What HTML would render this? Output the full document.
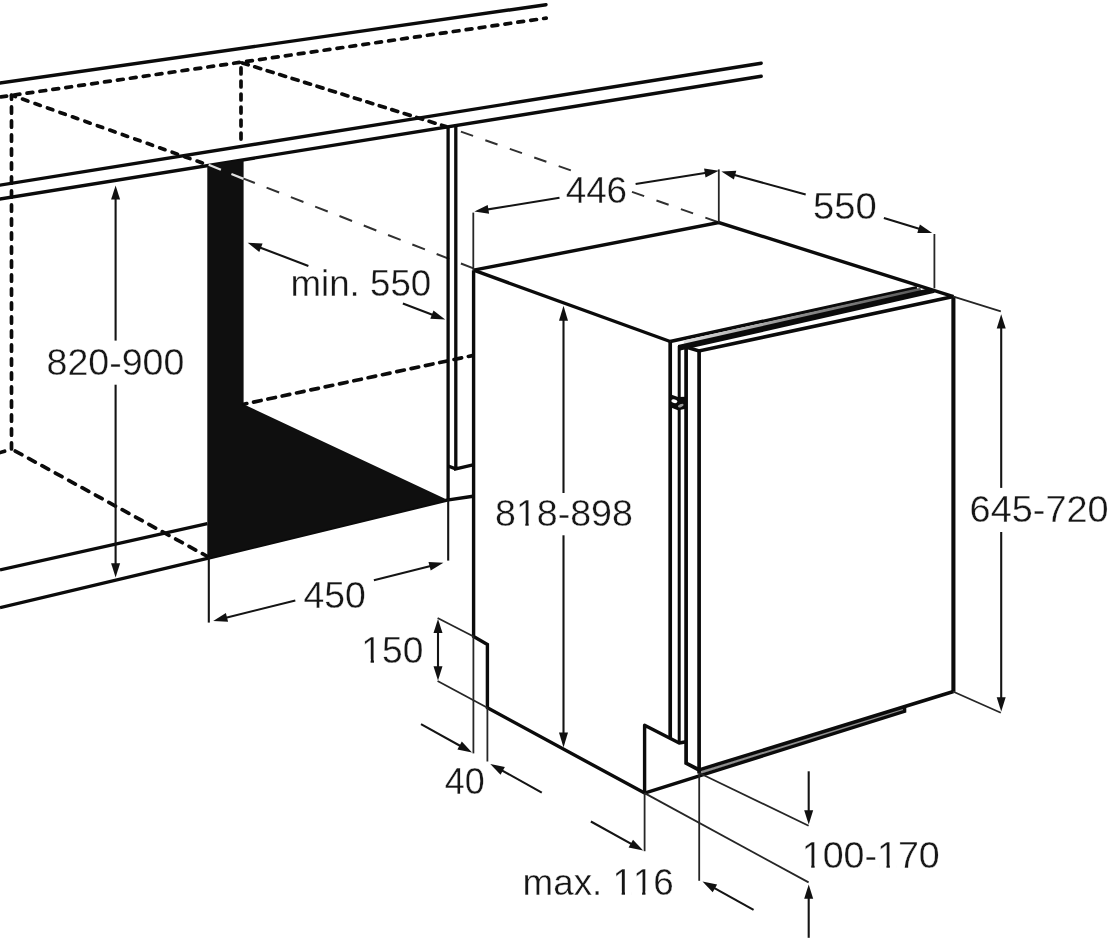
<!DOCTYPE html>
<html><head><meta charset="utf-8"><title>Built-in dishwasher installation dimensions</title>
<style>
html,body{margin:0;padding:0;background:#fff;}
body{width:1111px;height:944px;overflow:hidden;}
svg{display:block;filter:grayscale(1) blur(0.45px);}
text{font-family:"Liberation Sans",sans-serif;font-kerning:none;fill:#161616;stroke:#fff;stroke-width:0.35px;paint-order:fill stroke;}
</style></head><body>
<svg width="1111" height="944" viewBox="0 0 1111 944">
<rect width="1111" height="944" fill="#fff"/>
<path d="M-5.0,83.7 L546.0,4.7" fill="none" stroke="#0b0b0b" stroke-width="3.4" stroke-linecap="round" stroke-linejoin="miter"/>
<path d="M-5.0,185.9 L761.2,63.2" fill="none" stroke="#0b0b0b" stroke-width="3.4" stroke-linecap="round" stroke-linejoin="miter"/>
<path d="M-5.0,199.8 L761.2,76.3" fill="none" stroke="#0b0b0b" stroke-width="3.4" stroke-linecap="round" stroke-linejoin="miter"/>
<path d="M0.0,569.9 L207.4,523.7" fill="none" stroke="#0b0b0b" stroke-width="3.4" stroke-linecap="butt" stroke-linejoin="miter"/>
<path d="M0.0,607.7 L207.4,558.3 L447.0,500.1 L473.0,496.3" fill="none" stroke="#0b0b0b" stroke-width="3.4" stroke-linecap="butt" stroke-linejoin="miter"/>
<polygon points="207.3,165.4 243.6,159.6 243.6,404.2 447.2,499.8 207.3,558.3" fill="#0d0f0e"/>
<path d="M11.5,95.4 L546.2,18.1" fill="none" stroke="#0b0b0b" stroke-width="3.7" stroke-linecap="round" stroke-linejoin="miter" stroke-dasharray="5.80 7.25" stroke-dashoffset="-2.65"/>
<path d="M1.0,96.9 L6.6,96.1" fill="none" stroke="#0b0b0b" stroke-width="3.7" stroke-linecap="round" stroke-linejoin="miter"/>
<path d="M11.5,95.4 L11.5,449.0" fill="none" stroke="#0b0b0b" stroke-width="3.7" stroke-linecap="round" stroke-linejoin="miter" stroke-dasharray="6.30 7.70" stroke-dashoffset="2.45"/>
<path d="M11.5,95.2 L207.0,164.6" fill="none" stroke="#0b0b0b" stroke-width="3.7" stroke-linecap="round" stroke-linejoin="miter" stroke-dasharray="5.70 7.53" stroke-dashoffset="1.55"/>
<path d="M241.0,62.5 L241.0,139.1" fill="none" stroke="#0b0b0b" stroke-width="3.7" stroke-linecap="round" stroke-linejoin="miter" stroke-dasharray="6.00 7.03" stroke-dashoffset="-5.45"/>
<path d="M241.0,62.5 L446.0,126.6" fill="none" stroke="#0b0b0b" stroke-width="3.7" stroke-linecap="round" stroke-linejoin="miter" stroke-dasharray="6.20 6.85" stroke-dashoffset="-1.35"/>
<path d="M11.5,449.0 L207.5,556.5" fill="none" stroke="#0b0b0b" stroke-width="3.7" stroke-linecap="round" stroke-linejoin="miter" stroke-dasharray="7.60 7.65" stroke-dashoffset="-4.25"/>
<path d="M0.0,452.6 L4.6,451.2" fill="none" stroke="#0b0b0b" stroke-width="3.7" stroke-linecap="round" stroke-linejoin="miter"/>
<path d="M243.6,404.2 L472.4,355.6" fill="none" stroke="#0b0b0b" stroke-width="3.7" stroke-linecap="round" stroke-linejoin="miter" stroke-dasharray="7.70 6.94" stroke-dashoffset="4.45"/>
<path d="M208.7,164.8 L220.9,169.7" fill="none" stroke="#e2e2e2" stroke-width="2.3" stroke-linecap="butt" stroke-linejoin="miter"/>
<path d="M231.4,174.0 L243.6,178.9" fill="none" stroke="#e2e2e2" stroke-width="2.3" stroke-linecap="butt" stroke-linejoin="miter"/>
<path d="M243.6,178.6 L474.0,268.6" fill="none" stroke="#303030" stroke-width="2.0" stroke-linecap="butt" stroke-linejoin="miter" stroke-dasharray="13.5 12.58" stroke-dashoffset="1.4"/>
<path d="M460.9,131.6 L571.2,170.5" fill="none" stroke="#303030" stroke-width="2.0" stroke-linecap="butt" stroke-linejoin="miter" stroke-dasharray="12.9 13.02"/>
<path d="M632.0,191.9 L718.8,222.4" fill="none" stroke="#303030" stroke-width="2.0" stroke-linecap="butt" stroke-linejoin="miter" stroke-dasharray="12.9 13.02"/>
<path d="M448.1,126.0 L448.1,499.5" fill="none" stroke="#0b0b0b" stroke-width="3.3" stroke-linecap="butt" stroke-linejoin="miter"/>
<path d="M448.1,466.0 L455.8,468.9" fill="none" stroke="#0b0b0b" stroke-width="3.4" stroke-linecap="butt" stroke-linejoin="miter"/>
<path d="M455.8,124.5 L455.8,468.9 L473.0,464.9" fill="none" stroke="#0b0b0b" stroke-width="3.3" stroke-linecap="butt" stroke-linejoin="miter"/>
<path d="M473.6,270.2 L718.8,222.6 L953.5,296.6" fill="none" stroke="#0b0b0b" stroke-width="3.4" stroke-linecap="butt" stroke-linejoin="miter"/>
<path d="M473.6,270.2 L670.2,341.5" fill="none" stroke="#0b0b0b" stroke-width="3.4" stroke-linecap="butt" stroke-linejoin="miter"/>
<path d="M670.2,341.5 L917.0,287.6" fill="none" stroke="#0b0b0b" stroke-width="3.4" stroke-linecap="butt" stroke-linejoin="miter"/>
<defs><linearGradient id="gg" gradientUnits="userSpaceOnUse" x1="684" y1="0" x2="921" y2="0"><stop offset="0" stop-color="#dcdcdc"/><stop offset="0.5" stop-color="#8a8a8a"/><stop offset="1" stop-color="#5a5a5a"/></linearGradient></defs>
<path d="M684.0,342.9 L921.0,290.3" fill="none" stroke="url(#gg)" stroke-width="5.0" stroke-linecap="butt" stroke-linejoin="miter"/>
<polygon points="678.0,345.0 928.2,288.5 935.0,292.8 678.0,351.1" fill="#0b0b0b"/>
<path d="M686.0,347.0 L699.0,351.0 L953.5,296.6" fill="none" stroke="#0b0b0b" stroke-width="3.6" stroke-linecap="butt" stroke-linejoin="miter"/>
<path d="M953.4,296.6 L953.4,691.8" fill="none" stroke="#0b0b0b" stroke-width="4.1" stroke-linecap="butt" stroke-linejoin="miter"/>
<path d="M700.0,772.6 L904.6,708.9" fill="none" stroke="#8f8f8f" stroke-width="3.0" stroke-linecap="butt" stroke-linejoin="miter"/>
<path d="M699.2,769.8 L953.5,691.5" fill="none" stroke="#0b0b0b" stroke-width="3.5" stroke-linecap="butt" stroke-linejoin="miter"/>
<path d="M699.1,351.4 L699.1,773.5" fill="none" stroke="#0b0b0b" stroke-width="3.7" stroke-linecap="butt" stroke-linejoin="miter"/>
<path d="M686.1,347.0 L686.1,763.2 L699.2,770.0" fill="none" stroke="#0b0b0b" stroke-width="3.7" stroke-linecap="butt" stroke-linejoin="miter"/>
<path d="M679.2,346.0 L679.2,743.2" fill="none" stroke="#0b0b0b" stroke-width="3.0" stroke-linecap="butt" stroke-linejoin="miter"/>
<path d="M670.2,341.5 L670.2,738.2" fill="none" stroke="#0b0b0b" stroke-width="3.7" stroke-linecap="butt" stroke-linejoin="miter"/>
<polygon points="670.2,394.2 678.0,397.0 686.1,396.8 686.1,408.8 678.0,410.2 670.2,407.2" fill="#0b0b0b"/>
<ellipse cx="674.4" cy="401.2" rx="3.0" ry="1.9" fill="#fff" transform="rotate(12 674.2 401.2)"/>
<ellipse cx="680.8" cy="405.6" rx="3.0" ry="1.5" fill="#9a9a9a" transform="rotate(-22 680.8 405.7)"/>
<path d="M473.6,270.2 L473.6,636.5 L487.4,644.4 L487.4,707.8 L644.6,793.1" fill="none" stroke="#0b0b0b" stroke-width="3.4" stroke-linecap="butt" stroke-linejoin="miter"/>
<path d="M644.6,793.1 L644.6,725.3 L679.2,743.0 L686.2,741.8" fill="none" stroke="#0b0b0b" stroke-width="3.4" stroke-linecap="butt" stroke-linejoin="round"/>
<path d="M644.6,793.1 L904.6,711.3 L904.6,706.8" fill="none" stroke="#0b0b0b" stroke-width="3.4" stroke-linecap="butt" stroke-linejoin="miter"/>
<path d="M115.6,192.0 L115.6,340.6" fill="none" stroke="#141414" stroke-width="2.1" stroke-linecap="butt" stroke-linejoin="miter"/>
<path d="M115.6,384.7 L115.6,571.0" fill="none" stroke="#141414" stroke-width="2.1" stroke-linecap="butt" stroke-linejoin="miter"/>
<polygon points="115.6,185.4 120.1,199.6 111.1,199.6" fill="#111"/>
<polygon points="115.6,577.4 111.1,563.2 120.1,563.2" fill="#111"/>
<text x="46.5" y="375.4" font-size="37.4" text-anchor="start" textLength="137.8" lengthAdjust="spacingAndGlyphs">820-900</text>
<path d="M308.4,266.0 L253.3,244.9" fill="none" stroke="#141414" stroke-width="2.1" stroke-linecap="butt" stroke-linejoin="miter"/>
<polygon points="247.7,242.7 262.6,243.6 259.3,252.0" fill="#111"/>
<path d="M402.9,303.6 L439.6,317.5" fill="none" stroke="#141414" stroke-width="2.1" stroke-linecap="butt" stroke-linejoin="miter"/>
<polygon points="445.2,319.6 430.3,318.8 433.5,310.4" fill="#111"/>
<text x="290.5" y="296.3" font-size="37.4" text-anchor="start" textLength="140.7" lengthAdjust="spacingAndGlyphs">min. 550</text>
<path d="M208.8,557.0 L208.8,622.6" fill="none" stroke="#141414" stroke-width="2.1" stroke-linecap="butt" stroke-linejoin="miter"/>
<path d="M448.2,499.0 L448.2,560.6" fill="none" stroke="#141414" stroke-width="2.1" stroke-linecap="butt" stroke-linejoin="miter"/>
<path d="M295.3,600.5 L219.0,619.5" fill="none" stroke="#141414" stroke-width="2.1" stroke-linecap="butt" stroke-linejoin="miter"/>
<polygon points="213.2,620.9 225.9,613.1 228.1,621.8" fill="#111"/>
<path d="M373.9,580.3 L437.6,564.3" fill="none" stroke="#141414" stroke-width="2.1" stroke-linecap="butt" stroke-linejoin="miter"/>
<polygon points="443.4,562.8 430.7,570.6 428.5,561.9" fill="#111"/>
<text x="303.4" y="607.7" font-size="37.4" text-anchor="start" textLength="62.4" lengthAdjust="spacingAndGlyphs">450</text>
<path d="M473.3,212.6 L473.3,270.0" fill="none" stroke="#262626" stroke-width="1.8" stroke-linecap="butt" stroke-linejoin="miter"/>
<path d="M718.8,169.4 L718.8,222.6" fill="none" stroke="#262626" stroke-width="1.8" stroke-linecap="butt" stroke-linejoin="miter"/>
<path d="M559.5,197.8 L480.3,210.6" fill="none" stroke="#141414" stroke-width="2.1" stroke-linecap="butt" stroke-linejoin="miter"/>
<polygon points="474.4,211.6 487.7,204.9 489.1,213.8" fill="#111"/>
<path d="M635.6,184.0 L712.9,171.7" fill="none" stroke="#141414" stroke-width="2.1" stroke-linecap="butt" stroke-linejoin="miter"/>
<polygon points="718.8,170.8 705.5,177.5 704.1,168.6" fill="#111"/>
<text x="565.7" y="202.6" font-size="37.4" text-anchor="start" textLength="61.4" lengthAdjust="spacingAndGlyphs">446</text>
<path d="M805.7,194.6 L727.2,173.0" fill="none" stroke="#141414" stroke-width="2.1" stroke-linecap="butt" stroke-linejoin="miter"/>
<polygon points="721.4,171.4 736.3,170.8 733.9,179.5" fill="#111"/>
<path d="M883.9,218.1 L926.5,231.1" fill="none" stroke="#141414" stroke-width="2.1" stroke-linecap="butt" stroke-linejoin="miter"/>
<polygon points="932.2,232.9 917.3,233.0 919.9,224.4" fill="#111"/>
<path d="M934.4,234.0 L934.4,288.3" fill="none" stroke="#262626" stroke-width="1.8" stroke-linecap="butt" stroke-linejoin="miter"/>
<text x="813.1" y="219.0" font-size="37.4" text-anchor="start" textLength="63.8" lengthAdjust="spacingAndGlyphs">550</text>
<path d="M563.5,313.0 L563.5,493.0" fill="none" stroke="#141414" stroke-width="2.1" stroke-linecap="butt" stroke-linejoin="miter"/>
<path d="M563.5,535.3 L563.5,736.0" fill="none" stroke="#141414" stroke-width="2.1" stroke-linecap="butt" stroke-linejoin="miter"/>
<polygon points="563.5,305.7 568.0,320.7 559.0,320.7" fill="#111"/>
<polygon points="563.5,747.6 559.0,732.6 568.0,732.6" fill="#111"/>
<text x="495.0" y="526.4" font-size="37.4" text-anchor="start" textLength="137.9" lengthAdjust="spacingAndGlyphs">818-898</text>
<path d="M1001.2,321.0 L1001.2,487.9" fill="none" stroke="#141414" stroke-width="2.1" stroke-linecap="butt" stroke-linejoin="miter"/>
<path d="M1001.2,532.0 L1001.2,705.0" fill="none" stroke="#141414" stroke-width="2.1" stroke-linecap="butt" stroke-linejoin="miter"/>
<polygon points="1001.2,314.2 1005.7,328.4 996.7,328.4" fill="#111"/>
<polygon points="1001.2,711.4 996.7,697.2 1005.7,697.2" fill="#111"/>
<path d="M953.5,296.6 L1000.8,311.4" fill="none" stroke="#262626" stroke-width="1.8" stroke-linecap="butt" stroke-linejoin="miter"/>
<path d="M953.5,691.8 L1000.8,712.7" fill="none" stroke="#262626" stroke-width="1.8" stroke-linecap="butt" stroke-linejoin="miter"/>
<text x="969.6" y="521.6" font-size="37.4" text-anchor="start" textLength="139.0" lengthAdjust="spacingAndGlyphs">645-720</text>
<path d="M438.0,625.0 L438.0,674.5" fill="none" stroke="#141414" stroke-width="2.1" stroke-linecap="butt" stroke-linejoin="miter"/>
<polygon points="438.0,618.9 442.5,633.1 433.5,633.1" fill="#111"/>
<polygon points="438.0,680.5 433.5,666.3 442.5,666.3" fill="#111"/>
<path d="M437.6,618.0 L473.6,636.5" fill="none" stroke="#262626" stroke-width="1.8" stroke-linecap="butt" stroke-linejoin="miter"/>
<path d="M437.6,681.0 L487.4,707.8" fill="none" stroke="#262626" stroke-width="1.8" stroke-linecap="butt" stroke-linejoin="miter"/>
<text x="361.3" y="662.6" font-size="37.4" text-anchor="start" textLength="62.0" lengthAdjust="spacingAndGlyphs">150</text>
<path d="M473.4,636.5 L473.4,753.4" fill="none" stroke="#262626" stroke-width="1.8" stroke-linecap="butt" stroke-linejoin="miter"/>
<path d="M487.4,707.8 L487.4,761.5" fill="none" stroke="#262626" stroke-width="1.8" stroke-linecap="butt" stroke-linejoin="miter"/>
<path d="M421.0,724.2 L466.7,749.5" fill="none" stroke="#141414" stroke-width="2.1" stroke-linecap="butt" stroke-linejoin="miter"/>
<polygon points="472.0,752.4 457.4,749.5 461.8,741.6" fill="#111"/>
<path d="M541.8,792.6 L495.5,766.8" fill="none" stroke="#141414" stroke-width="2.1" stroke-linecap="butt" stroke-linejoin="miter"/>
<polygon points="490.3,763.9 504.9,766.9 500.5,774.7" fill="#111"/>
<text x="444.8" y="793.5" font-size="37.4" text-anchor="start" textLength="39.9" lengthAdjust="spacingAndGlyphs">40</text>
<path d="M644.6,793.1 L644.6,851.2" fill="none" stroke="#262626" stroke-width="1.8" stroke-linecap="butt" stroke-linejoin="miter"/>
<path d="M699.2,773.0 L699.2,880.8" fill="none" stroke="#262626" stroke-width="1.8" stroke-linecap="butt" stroke-linejoin="miter"/>
<path d="M590.9,821.5 L638.0,847.6" fill="none" stroke="#141414" stroke-width="2.1" stroke-linecap="butt" stroke-linejoin="miter"/>
<polygon points="643.2,850.5 628.6,847.5 633.0,839.7" fill="#111"/>
<path d="M753.6,909.8 L707.7,884.4" fill="none" stroke="#141414" stroke-width="2.1" stroke-linecap="butt" stroke-linejoin="miter"/>
<polygon points="702.5,881.5 717.1,884.4 712.7,892.3" fill="#111"/>
<text x="522.6" y="895.1" font-size="37.4" text-anchor="start" textLength="151.2" lengthAdjust="spacingAndGlyphs">max. 116</text>
<path d="M699.2,773.0 L808.6,825.8" fill="none" stroke="#262626" stroke-width="1.8" stroke-linecap="butt" stroke-linejoin="miter"/>
<path d="M644.6,793.1 L808.6,882.4" fill="none" stroke="#262626" stroke-width="1.8" stroke-linecap="butt" stroke-linejoin="miter"/>
<path d="M808.7,771.3 L808.7,818.4" fill="none" stroke="#141414" stroke-width="2.1" stroke-linecap="butt" stroke-linejoin="miter"/>
<polygon points="808.7,824.4 804.2,810.2 813.2,810.2" fill="#111"/>
<path d="M808.7,937.8 L808.7,890.6" fill="none" stroke="#141414" stroke-width="2.1" stroke-linecap="butt" stroke-linejoin="miter"/>
<polygon points="808.7,884.6 813.2,898.8 804.2,898.8" fill="#111"/>
<text x="801.8" y="868.3" font-size="37.4" text-anchor="start" textLength="138.0" lengthAdjust="spacingAndGlyphs">100-170</text>
<rect x="518.05" y="522.71" width="7.24" height="4.59" fill="#fff"/><rect x="528.71" y="522.71" width="6.95" height="4.59" fill="#fff"/>
<rect x="363.43" y="658.91" width="7.16" height="4.59" fill="#fff"/><rect x="373.98" y="658.91" width="6.87" height="4.59" fill="#fff"/>
<rect x="614.56" y="891.41" width="7.10" height="4.59" fill="#fff"/><rect x="625.01" y="891.41" width="6.81" height="4.59" fill="#fff"/>
<rect x="635.00" y="891.41" width="7.10" height="4.59" fill="#fff"/><rect x="645.45" y="891.41" width="6.81" height="4.59" fill="#fff"/>
<rect x="803.97" y="864.61" width="7.25" height="4.59" fill="#fff"/><rect x="814.64" y="864.61" width="6.95" height="4.59" fill="#fff"/>
<rect x="879.21" y="864.61" width="7.25" height="4.59" fill="#fff"/><rect x="889.88" y="864.61" width="6.95" height="4.59" fill="#fff"/>
</svg>
</body></html>
